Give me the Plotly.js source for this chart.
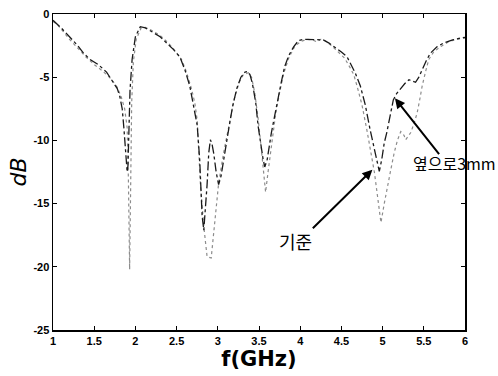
<!DOCTYPE html>
<html>
<head>
<meta charset="utf-8">
<script src="https://cdn.plot.ly/plotly-3.0.1.min.js"></script>
<style>html,body{margin:0;padding:0;background:#fff;}#chart{width:498px;height:376px;}</style>
</head>
<body>
<div id="chart"></div>
<script>
// Series: dark (옆으로3mm) and gray dotted (기준)
const darkX = [1.00,1.04,1.10,1.20,1.30,1.37,1.45,1.55,1.65,1.72,1.78,1.81,1.84,1.86,1.88,1.90,1.91,1.92,1.935,1.96,2.00,2.06,2.12,2.20,2.30,2.38,2.46,2.54,2.60,2.66,2.70,2.75,2.78,2.81,2.83,2.85,2.87,2.89,2.91,2.93,2.95,2.98,3.01,3.04,3.07,3.13,3.18,3.23,3.28,3.33,3.36,3.39,3.42,3.46,3.49,3.52,3.55,3.57,3.60,3.65,3.69,3.73,3.77,3.81,3.86,3.92,3.98,4.05,4.12,4.20,4.28,4.35,4.42,4.50,4.57,4.62,4.67,4.73,4.79,4.85,4.90,4.93,4.96,4.99,5.02,5.05,5.09,5.13,5.17,5.22,5.27,5.32,5.36,5.40,5.44,5.48,5.53,5.58,5.66,5.74,5.85,5.95,6.00];
const darkY = [-0.5,-0.74,-1.1,-1.8,-2.5,-3.1,-3.6,-4.0,-4.6,-5.3,-5.9,-6.5,-7.5,-9.0,-11.0,-12.5,-12.0,-9.5,-6.0,-3.6,-1.8,-1.0,-1.1,-1.4,-1.8,-2.3,-2.8,-3.4,-4.4,-5.7,-7.0,-8.8,-11.5,-16.0,-17.1,-15.5,-13.5,-11.0,-9.95,-10.3,-11.0,-12.5,-13.5,-12.8,-11.5,-9.2,-7.3,-5.9,-5.0,-4.6,-4.55,-4.8,-5.5,-7.0,-8.9,-10.3,-11.5,-12.1,-11.5,-9.4,-8.0,-6.8,-5.4,-4.2,-3.3,-2.6,-2.1,-2.0,-2.0,-2.0,-2.05,-2.3,-2.6,-3.0,-3.4,-4.0,-4.7,-5.7,-7.2,-9.2,-10.8,-11.7,-12.45,-11.5,-10.2,-9.4,-8.0,-6.8,-6.3,-5.9,-5.5,-5.2,-5.3,-5.4,-5.0,-4.4,-3.7,-3.1,-2.6,-2.3,-2.05,-1.9,-1.85];

const grayX = [1.00,1.05,1.10,1.20,1.30,1.40,1.50,1.60,1.70,1.78,1.83,1.87,1.90,1.915,1.93,1.945,1.955,1.975,2.01,2.07,2.12,2.20,2.30,2.40,2.48,2.56,2.62,2.68,2.72,2.75,2.79,2.83,2.87,2.92,2.97,3.01,3.07,3.15,3.20,3.26,3.31,3.37,3.41,3.45,3.49,3.53,3.56,3.58,3.61,3.65,3.70,3.75,3.80,3.86,3.93,4.00,4.08,4.15,4.20,4.25,4.30,4.38,4.46,4.54,4.61,4.65,4.69,4.75,4.81,4.86,4.90,4.94,4.98,5.02,5.06,5.10,5.14,5.18,5.22,5.26,5.28,5.31,5.34,5.38,5.42,5.45,5.48,5.52,5.56,5.62,5.70,5.80,5.90,6.00];
const grayY = [-0.6,-0.8,-1.2,-2.0,-2.7,-3.4,-4.0,-4.5,-5.1,-5.8,-6.6,-7.5,-9.0,-13.0,-20.2,-13.0,-7.0,-3.8,-2.0,-1.1,-1.05,-1.3,-1.7,-2.3,-2.9,-3.6,-4.6,-5.9,-7.0,-8.4,-13.6,-16.8,-19.2,-19.3,-16.3,-13.4,-11.0,-8.4,-6.7,-5.4,-4.8,-4.65,-5.0,-6.3,-8.3,-10.8,-13.0,-14.1,-12.5,-10.4,-8.0,-6.2,-4.7,-3.5,-2.6,-2.2,-2.0,-2.05,-2.2,-2.0,-2.1,-2.5,-3.0,-3.5,-4.3,-4.8,-5.7,-7.2,-9.2,-11.0,-12.5,-14.5,-16.5,-15.0,-13.5,-12.3,-11.0,-10.0,-9.3,-9.6,-9.95,-9.7,-9.4,-8.7,-7.8,-6.8,-5.7,-4.6,-3.6,-3.0,-2.6,-2.2,-2.0,-1.9];

const xTickVals = [1,1.5,2,2.5,3,3.5,4,4.5,5,5.5,6];
const xTickText = ["1","1.5","2","2.5","3","3.5","4","4.5","5","5.5","6"];
const yTickVals = [0,-5,-10,-15,-20,-25];
const yTickText = ["0","-5","-10","-15","-20","-25"];

const labelTexts = ["옆으로3mm","기준"];

const traces = [
  {x: grayX, y: grayY, mode:'lines', line:{color:'#8c8c8c', width:1.2, dash:'dot'}, hoverinfo:'skip', showlegend:false},
  {x: darkX, y: darkY, mode:'lines', line:{color:'#1a1a1a', width:1.3, dash:'dashdot'}, hoverinfo:'skip', showlegend:false}
];

const tickFont = {family:'Liberation Sans, Arial, sans-serif', size:11, color:'#000', weight:'bold'};
const axisCommon = {
  showline:true, linecolor:'#000', linewidth:1.5, mirror:'ticks',
  ticks:'inside', ticklen:4, tickwidth:1, tickcolor:'#000',
  showgrid:false, zeroline:false, tickfont:tickFont, fixedrange:true
};

const layout = {
  width:498, height:376,
  margin:{l:53, r:33, t:14, b:46},
  paper_bgcolor:'#fff', plot_bgcolor:'#fff',
  xaxis: Object.assign({}, axisCommon, {
    range:[1,6], tickmode:'array', tickvals:xTickVals, ticktext:xTickText,
    title:{text:'f(GHz)', font:{family:'DejaVu Sans, sans-serif', size:21, color:'#000', weight:'bold'}, standoff:5}
  }),
  yaxis: Object.assign({}, axisCommon, {
    range:[-25,0], tickmode:'array', tickvals:yTickVals, ticktext:yTickText,
    title:{text:'<i>dB</i>', font:{family:'DejaVu Sans, sans-serif', size:22, color:'#000'}, standoff:0}
  }),
  annotations:[
    {x:5.15, y:-6.67, ax:5.70, ay:-11.2, xref:'x', yref:'y', axref:'x', ayref:'y', text:'', showarrow:true, arrowhead:2, arrowsize:1, arrowwidth:2, arrowcolor:'#000'},
    {x:4.876, y:-12.32, ax:4.135, ay:-17.06, xref:'x', yref:'y', axref:'x', ayref:'y', text:'', showarrow:true, arrowhead:2, arrowsize:1, arrowwidth:2, arrowcolor:'#000'},
    {x:5.87, y:-11.75, xref:'x', yref:'y', text:labelTexts[0], showarrow:false, font:{family:'Noto Sans CJK KR, sans-serif', size:16, color:'#000'}},
    {x:3.94, y:-17.95, xref:'x', yref:'y', text:labelTexts[1], showarrow:false, font:{family:'Noto Sans CJK KR, sans-serif', size:18, color:'#000'}}
  ]
};

Plotly.newPlot('chart', traces, layout, {displayModeBar:false, staticPlot:true});
</script>
</body>
</html>
